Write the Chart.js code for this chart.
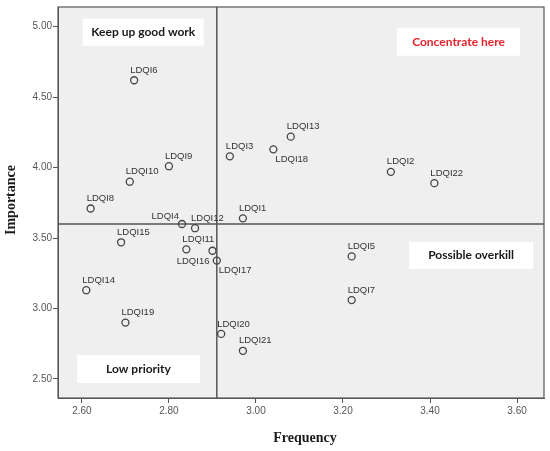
<!DOCTYPE html>
<html>
<head>
<meta charset="utf-8">
<script src="https://cdn.jsdelivr.net/npm/chart.js@4.4.0/dist/chart.umd.min.js"></script>
<style>
    body { margin: 0; background: #fff; }
    #wrap { width: 550px; height: 451px; }
</style>
</head>
<body>
<div id="wrap"><canvas id="quadChart"></canvas></div>
<script>
var itemNames = ["LDQI1", "LDQI2", "LDQI3", "LDQI4", "LDQI5", "LDQI6", "LDQI7", "LDQI8", "LDQI9", "LDQI10", "LDQI11",
    "LDQI12", "LDQI13", "LDQI14", "LDQI15", "LDQI16", "LDQI17", "LDQI18", "LDQI19", "LDQI20", "LDQI21", "LDQI22"];
var frequency = [2.97, 3.31, 2.94, 2.83, 3.22, 2.72, 3.22, 2.62, 2.80, 2.71, 2.84,
    2.86, 3.08, 2.61, 2.69, 2.90, 2.91, 3.04, 2.70, 2.92, 2.97, 3.41];
var importance = [3.64, 3.97, 4.08, 3.60, 3.37, 4.62, 3.06, 3.71, 4.01, 3.90, 3.42,
    3.57, 4.22, 3.13, 3.47, 3.41, 3.34, 4.13, 2.90, 2.82, 2.70, 3.89];
var meanFrequency = 2.91;
var meanImportance = 3.60;
var xTicks = [2.60, 2.80, 3.00, 3.20, 3.40, 3.60];
var yTicks = [2.50, 3.00, 3.50, 4.00, 4.50, 5.00];
var xRange = [2.545, 3.662];
var yRange = [2.365, 5.14];

// quadrant captions, boxes given in data units
var quadrants = [
    { text: "Keep up good work", color: "#1a1a1a", x0: 2.602, x1: 2.880, y0: 4.865, y1: 5.057 },
    { text: "Concentrate here", color: "#e8232b", x0: 3.324, x1: 3.607, y0: 4.794, y1: 4.993 },
    { text: "Possible overkill", color: "#1a1a1a", x0: 3.352, x1: 3.637, y0: 3.281, y1: 3.473 },
    { text: "Low priority", color: "#1a1a1a", x0: 2.589, x1: 2.871, y0: 2.472, y1: 2.670 }
];

var points = frequency.map(function (f, i) { return { x: f, y: importance[i] }; });

var quadPlugin = {
    id: "quad",
    beforeDraw: function (chart) {
        var a = chart.chartArea, ctx = chart.ctx;
        ctx.save();
        ctx.fillStyle = "#efefef";
        ctx.fillRect(a.left, a.top, a.right - a.left, a.bottom - a.top);
        ctx.restore();
    },
    beforeDatasetsDraw: function (chart) {
        var ctx = chart.ctx, xs = chart.scales.x, ys = chart.scales.y;
        ctx.save();
        quadrants.forEach(function (q) {
            var l = xs.getPixelForValue(q.x0), r = xs.getPixelForValue(q.x1);
            var t = ys.getPixelForValue(q.y1), b = ys.getPixelForValue(q.y0);
            ctx.fillStyle = "#fff";
            ctx.fillRect(l, t, r - l, b - t);
            ctx.fillStyle = q.color;
            ctx.font = "bold 12px Lato";
            ctx.textAlign = "center";
            ctx.textBaseline = "middle";
            ctx.fillText(q.text, (l + r) / 2, (t + b) / 2);
        });
        ctx.restore();
    },
    afterDatasetsDraw: function (chart) {
        var ctx = chart.ctx, a = chart.chartArea;
        var meta = chart.getDatasetMeta(0);
        var anchors = { LDQI4: "left", LDQI16: "belowLeft", LDQI17: "belowRight", LDQI18: "belowRight" };
        ctx.save();
        ctx.font = "9.5px 'Liberation Sans'";
        ctx.fillStyle = "#333";
        ctx.textBaseline = "middle";
        meta.data.forEach(function (el, i) {
            var name = itemNames[i], pos = anchors[name];
            if (pos == "left") {
                ctx.textAlign = "right";
                ctx.fillText(name, el.x - 3, el.y - 8);
            } else if (pos == "belowLeft") {
                ctx.textAlign = "right";
                ctx.fillText(name, el.x - 3, el.y + 11);
            } else if (pos == "belowRight") {
                ctx.textAlign = "left";
                ctx.fillText(name, el.x + 2, el.y + 10);
            } else {
                ctx.textAlign = "left";
                ctx.fillText(name, el.x - 4, el.y - 10);
            }
        });
        // frame around the plot
        ctx.strokeStyle = "#555";
        ctx.lineWidth = 1.2;
        ctx.strokeRect(a.left, a.top, a.right - a.left, a.bottom - a.top);
        ctx.restore();
    },
    afterDraw: function (chart) {
        var ctx = chart.ctx, a = chart.chartArea;
        ctx.save();
        ctx.fillStyle = "#1a1a1a";
        ctx.font = "bold 14px 'Liberation Serif'";
        ctx.textAlign = "center";
        ctx.textBaseline = "middle";
        ctx.fillText("Frequency", 305, 438);
        ctx.translate(11, 200);
        ctx.rotate(-Math.PI / 2);
        ctx.fillText("Importance", 0, 0);
        ctx.restore();
    }
};

function createChart() {
    var ctx = document.getElementById("quadChart").getContext("2d");

    var myChart = new Chart(ctx, {
        type: "scatter",
        data: {
            datasets: [{
                data: points,
                pointRadius: 3.5,
                pointBorderWidth: 1.3,
                pointBorderColor: "#444",
                pointBackgroundColor: "rgba(0,0,0,0)"
            }, {
                type: "line",
                data: [{ x: meanFrequency, y: yRange[0] }, { x: meanFrequency, y: yRange[1] }],
                borderColor: "#555",
                borderWidth: 1.5,
                pointRadius: 0
            }, {
                type: "line",
                data: [{ x: xRange[0], y: meanImportance }, { x: xRange[1], y: meanImportance }],
                borderColor: "#555",
                borderWidth: 1.5,
                pointRadius: 0
            }]
        },
        options: {
            responsive: true,
            maintainAspectRatio: false,
            animation: false,
            layout: { padding: { top: 7, right: 6 } },
            plugins: {
                legend: { display: false },
                tooltip: { enabled: false }
            },
            scales: {
                x: {
                    type: "linear",
                    min: xRange[0],
                    max: xRange[1],
                    afterBuildTicks: function (s) { s.ticks = xTicks.map(function (v) { return { value: v }; }); },
                    afterFit: function (s) { s.height = 53; },
                    grid: { drawOnChartArea: false, drawTicks: true, tickLength: 5, color: "#555" },
                    border: { color: "#555" },
                    ticks: {
                        color: "#555",
                        font: { size: 10, family: "Liberation Sans" },
                        padding: 2,
                        callback: function (v) { return v.toFixed(2); }
                    }
                },
                y: {
                    type: "linear",
                    min: yRange[0],
                    max: yRange[1],
                    afterBuildTicks: function (s) { s.ticks = yTicks.map(function (v) { return { value: v }; }); },
                    afterFit: function (s) { s.width = 58; },
                    grid: { drawOnChartArea: false, drawTicks: true, tickLength: 5, color: "#555" },
                    border: { color: "#555" },
                    ticks: {
                        color: "#555",
                        font: { size: 10, family: "Liberation Sans" },
                        padding: 1,
                        callback: function (v) { return v.toFixed(2); }
                    }
                }
            }
        },
        plugins: [quadPlugin]
    });
}

createChart();
</script>
</body>
</html>
